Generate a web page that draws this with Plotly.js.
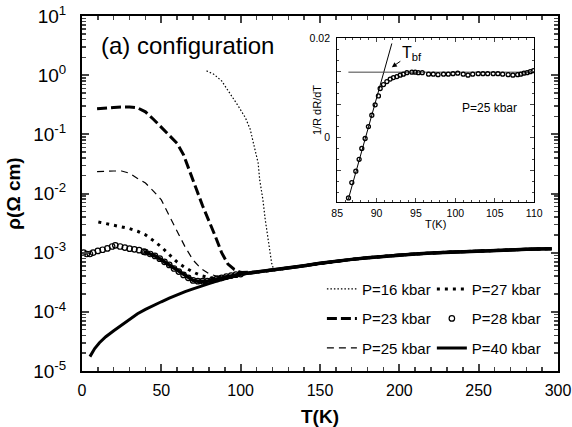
<!DOCTYPE html>
<html><head><meta charset="utf-8">
<script src="https://cdn.plot.ly/plotly-3.0.1.min.js"></script>
<style>html,body{margin:0;padding:0;background:#fff}#chart{width:572px;height:427px}</style>
</head><body><div id="chart"></div>
<script>
// ---- main panel data: T (K) and resistivity (Ohm cm) ----
const T_common = [110,120,130,140,150,160,170,180,190,200,210,220,230,240,250,260,270,280,290,296];
const R_common = [4.7e-4,5.05e-4,5.5e-4,6.0e-4,6.6e-4,7.2e-4,7.7e-4,8.2e-4,8.7e-4,9.1e-4,9.5e-4,9.9e-4,1.02e-3,1.04e-3,1.07e-3,1.09e-3,1.11e-3,1.14e-3,1.16e-3,1.17e-3];

const T16 = [78.5,83,88,93,98.5,103,106,108.5,111,112,114,115.5,117.5,119.5,121];
const R16 = [1.18,1.04,0.80,0.51,0.30,0.19,0.122,0.063,0.033,0.017,0.0079,0.0036,1.45e-3,6.7e-4,5.0e-4];

const T23 = [9.5,15,20,25,30,35,40,45,50,55,60,64,68,72,76,80,84,88,92,96,100];
const R23 = [0.27,0.28,0.285,0.29,0.29,0.28,0.24,0.18,0.13,0.095,0.07,0.045,0.024,0.012,0.0062,0.0035,0.0019,1.0e-3,6.4e-4,5.2e-4,4.6e-4];

const T25 = [9.5,15,20,25,30,35,40,45,50,55,60,65,70,75,80,85,90,95,100];
const R25 = [0.0235,0.024,0.024,0.024,0.022,0.018,0.015,0.011,0.0078,0.0042,0.0023,1.25e-3,7.5e-4,5.4e-4,4.4e-4,4.0e-4,4.0e-4,4.1e-4,4.3e-4];

const T27 = [10.3,15,20,25,30,35,40,45,50,55,60,65,70,75,80,85,90,95,100];
const R27 = [3.3e-3,3.1e-3,2.9e-3,2.75e-3,2.55e-3,2.3e-3,2.0e-3,1.6e-3,1.25e-3,9.3e-4,6.9e-4,5.6e-4,4.7e-4,4.1e-4,3.8e-4,3.7e-4,3.9e-4,4.1e-4,4.3e-4];

const T28 = [1,3,5,7,10,13,16,19,21,24,27,30,33,36,39,40,43,46,49,52,55,58,61,64,67,70,73,76,79,82,85,88,91,94,97,100];
const R28 = [1.0e-3,9.5e-4,9.5e-4,1.0e-3,1.07e-3,1.12e-3,1.18e-3,1.27e-3,1.33e-3,1.27e-3,1.22e-3,1.17e-3,1.14e-3,1.1e-3,1.04e-3,1.02e-3,9.5e-4,8.8e-4,7.9e-4,7.0e-4,6.2e-4,5.4e-4,4.8e-4,4.2e-4,3.75e-4,3.4e-4,3.3e-4,3.3e-4,3.3e-4,3.45e-4,3.6e-4,3.75e-4,3.95e-4,4.1e-4,4.25e-4,4.35e-4];

const T40 = [5,8,11,15,20,25,30,35,40,45,50,55,60,65,70,75,80,85,90,95,100];
const R40 = [1.75e-5,2.4e-5,3.0e-5,3.8e-5,4.8e-5,6.0e-5,7.6e-5,9.3e-5,1.1e-4,1.29e-4,1.48e-4,1.7e-4,1.95e-4,2.2e-4,2.45e-4,2.75e-4,3.0e-4,3.3e-4,3.6e-4,3.95e-4,4.3e-4];

const yTickVals = [1e-5,1e-4,1e-3,1e-2,1e-1,1,10];
const yTickText = ['10<sup>-5</sup>','10<sup>-4</sup>','10<sup>-3</sup>','10<sup>-2</sup>','10<sup>-1</sup>','10<sup>0</sup>','10<sup>1</sup>'];

// ---- inset data: 1/R dR/dT vs T, P=25 kbar ----
const Tin = [86.44,86.86,87.37,87.79,88.13,88.55,88.97,89.40,89.82,90.24,90.46,90.88,91.31,91.73,92.14,92.58,93.0,93.4,93.85,94.48,94.9,95.3,95.8,96.6,97.2,97.8,98.5,99.1,99.7,100.3,101.0,101.6,102.2,102.9,103.5,104.1,104.8,105.4,106.0,106.7,107.3,107.9,108.3,108.7,109.1,109.5,109.9];
const Yin = [-0.0123,-0.0092,-0.0069,-0.0045,-0.0023,-0.0003,0.0021,0.0044,0.0065,0.0083,0.0098,0.0106,0.0112,0.0117,0.0120,0.0122,0.0125,0.0127,0.0130,0.0131,0.0131,0.0130,0.0130,0.0127,0.0127,0.0126,0.0127,0.0127,0.0128,0.0129,0.0127,0.0125,0.0127,0.0128,0.0128,0.0128,0.0128,0.0128,0.0127,0.0126,0.0125,0.0126,0.0127,0.0129,0.0130,0.0132,0.0134];
const steepT = [86.43,91.94];
const steepY = [-0.0125,0.0189];
const flatT = [86.43,110];
const flatY = [0.0131,0.0131];
const insetYTickVals = [-0.02/3,0,0.02/3,0.04/3,0.02];
const insetYTickText = ['','0','','','0.02'];
const insetXTicks = [85,90,95,100,105,110];

function withTail(T,R){
  const last = T[T.length-1];
  const x = T.slice(), y = R.slice();
  T_common.forEach((t,i)=>{ if(t>last+5){ x.push(t); y.push(R_common[i]); } });
  return {x,y};
}
const s16=withTail(T16,R16), s23=withTail(T23,R23), s25=withTail(T25,R25),
      s27=withTail(T27,R27), s40=withTail(T40,R40);
const T28band=[], R28band=[];
T28.forEach((t,i)=>{ if(t>=39){T28band.push(t);R28band.push(R28[i]);} });
const s28b=withTail(T28band,R28band);

const F='"Liberation Sans", Arial, sans-serif';
const traces = [
  {x:s16.x,y:s16.y,mode:'lines',name:'P=16 kbar',legend:'legend',legendgroup:'a',line:{color:'black',width:1.2,dash:'1.5px,2px'}},
  {x:s23.x,y:s23.y,mode:'lines',name:'P=23 kbar',legend:'legend',legendgroup:'b',line:{color:'black',width:3,dash:'10px,4px'}},
  {x:s25.x,y:s25.y,mode:'lines',name:'P=25 kbar',legend:'legend',legendgroup:'c',line:{color:'black',width:1.2,dash:'7px,5px'}},
  {x:s27.x,y:s27.y,mode:'lines',name:'P=27 kbar',legend:'legend2',legendgroup:'d',line:{color:'black',width:3,dash:'3px,5px'}},
  {x:s28b.x,y:s28b.y,mode:'lines',showlegend:false,legend:'legend2',legendgroup:'e',line:{color:'black',width:3.5}},
  {x:T28,y:R28,mode:'markers',name:'P=28 kbar',legend:'legend2',legendgroup:'e',marker:{symbol:'circle-open',size:5.5,color:'black',line:{width:1.2}}},
  {x:s40.x,y:s40.y,mode:'lines',name:'P=40 kbar',legend:'legend2',legendgroup:'f',line:{color:'black',width:3}},
  // inset
  {x:steepT,y:steepY,xaxis:'x2',yaxis:'y2',mode:'lines',showlegend:false,line:{color:'black',width:1}},
  {x:flatT,y:flatY,xaxis:'x2',yaxis:'y2',mode:'lines',showlegend:false,line:{color:'#444',width:1}},
  {x:Tin,y:Yin,xaxis:'x2',yaxis:'y2',mode:'markers',showlegend:false,marker:{symbol:'circle-open',size:4,color:'black',line:{width:1.3}}}
];

const layout = {
  width:572,height:427,
  margin:{l:82,r:14,t:16,b:56},
  paper_bgcolor:'white',plot_bgcolor:'white',
  font:{family:F,color:'black'},
  showlegend:true,
  xaxis:{range:[0,300],dtick:50,ticks:'inside',ticklen:7,tickwidth:2,showline:true,linewidth:2,linecolor:'black',mirror:'allticks',
    showgrid:false,zeroline:false,tickfont:{size:16,family:F},ticklabelstandoff:4,
    minor:{ticks:'inside',ticklen:4,tickwidth:1.5,dtick:10,showgrid:false},
    title:{text:'<b>T(K)</b>',font:{size:19,family:F},standoff:12}},
  yaxis:{type:'log',range:[-5,1],tickmode:'array',tickvals:yTickVals,ticktext:yTickText,ticks:'inside',ticklen:7,tickwidth:2,showline:true,linewidth:2,linecolor:'black',mirror:'allticks',
    showgrid:false,zeroline:false,tickfont:{size:19,family:F},ticklabelstandoff:10,
    minor:{ticks:'inside',ticklen:4,tickwidth:1.5,tickmode:'linear',dtick:'D1',showgrid:false},
    title:{text:'<b>ρ(Ω cm)</b>',font:{size:19,family:F},standoff:8}},
  xaxis2:{domain:[0.536,0.950],anchor:'y2',range:[85,110],tickvals:insetXTicks,ticks:'inside',ticklen:4,tickwidth:1,showline:true,linewidth:1,linecolor:'black',mirror:'allticks',
    showgrid:false,zeroline:false,tickfont:{size:10.5,family:F},ticklabelstandoff:1,
    minor:{ticks:'inside',ticklen:2,dtick:1,showgrid:false},
    title:{text:'T(K)',font:{size:11,family:F},standoff:2}},
  yaxis2:{domain:[0.476,0.938],anchor:'x2',range:[-0.01313,0.02],tickmode:'array',tickvals:insetYTickVals,ticktext:insetYTickText,ticks:'inside',ticklen:4,tickwidth:1,showline:true,linewidth:1,linecolor:'black',mirror:'allticks',
    showgrid:false,zeroline:false,tickfont:{size:10.5,family:F},ticklabelstandoff:4,
    minor:{ticks:'inside',ticklen:2,tickmode:'linear',tick0:0,dtick:0.02/9,showgrid:false}},
  legend:{x:0.504,y:0.277,xanchor:'left',yanchor:'top',bgcolor:'rgba(0,0,0,0)',font:{size:15,family:F},tracegroupgap:7,itemwidth:30,traceorder:'grouped'},
  legend2:{x:0.735,y:0.277,xanchor:'left',yanchor:'top',bgcolor:'rgba(0,0,0,0)',font:{size:15,family:F},tracegroupgap:7,itemwidth:30,traceorder:'grouped'},
  annotations:[
    {xref:'paper',yref:'paper',x:0.036,y:0.918,xanchor:'left',yanchor:'middle',text:'(a) configuration',showarrow:false,font:{size:24,family:F}},
    {xref:'x2',yref:'y2',x:91.94,y:0.0141,ax:20,ay:-14,text:'T<sub>bf</sub>',showarrow:true,arrowhead:2,arrowsize:1,arrowwidth:1,arrowcolor:'black',font:{size:16,family:F}},
    {xref:'x2',yref:'y2',x:104.3,y:0.0059,text:'P=25 kbar',showarrow:false,font:{size:12,family:F}},
    {xref:'paper',yref:'paper',x:0.4937,y:0.811,text:'1/R dR/dT',textangle:-90,showarrow:false,font:{size:11,family:F}}
  ]
};
Plotly.newPlot('chart',traces,layout,{displayModeBar:false,staticPlot:true});
</script></body></html>
